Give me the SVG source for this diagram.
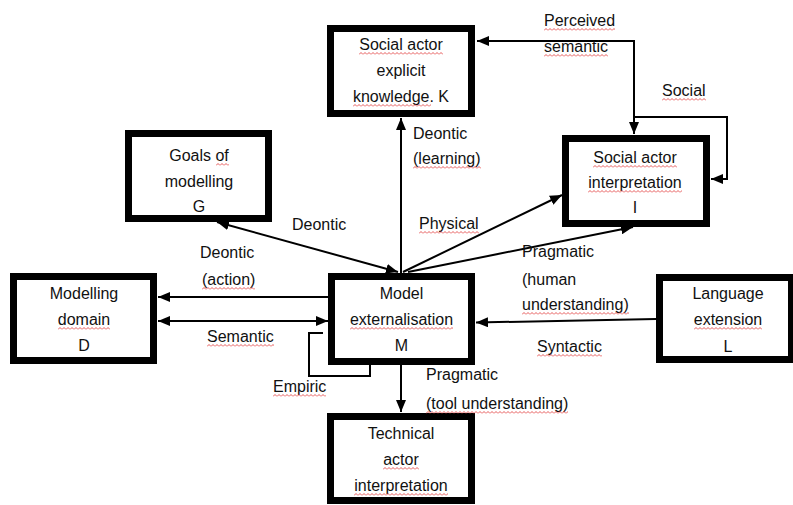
<svg xmlns="http://www.w3.org/2000/svg" width="793" height="505" viewBox="0 0 793 505">
<defs>
<marker id="ah" viewBox="0 0 12 10" refX="12" refY="5" markerWidth="12" markerHeight="10" markerUnits="userSpaceOnUse" orient="auto-start-reverse">
<path d="M0,0 L12,5 L0,10 z" fill="#000"/>
</marker>
<pattern id="sq" patternUnits="userSpaceOnUse" width="4" height="3">
<path d="M0,2.5 L2,0.5 L4,2.5" fill="none" stroke="#e03030" stroke-width="0.8"/>
</pattern>
</defs>
<style>
.box{fill:#fff;stroke:#000;stroke-width:7}
.t{font-family:"Liberation Sans",Arial,sans-serif;font-size:16px;fill:#111}
.c{text-anchor:middle}
.ln{fill:none;stroke:#000;stroke-width:2}
.sq{fill:url(#sq)}
</style>
<rect width="793" height="505" fill="#fff"/>
<g id="connectors">
<polyline class="ln" points="477,41 634,41 634,134" marker-start="url(#ah)" marker-end="url(#ah)"/>
<polyline class="ln" points="634,117 727,117 727,179 711,179" marker-end="url(#ah)"/>
<line class="ln" x1="401" y1="273" x2="401" y2="118" marker-end="url(#ah)"/>
<line class="ln" x1="398" y1="272" x2="217" y2="222" marker-start="url(#ah)" marker-end="url(#ah)"/>
<line class="ln" x1="403" y1="272" x2="562" y2="195" marker-end="url(#ah)"/>
<line class="ln" x1="408" y1="272" x2="633" y2="227" marker-end="url(#ah)"/>
<line class="ln" x1="328" y1="297" x2="158" y2="297" marker-end="url(#ah)"/>
<line class="ln" x1="158" y1="321" x2="328" y2="321" marker-start="url(#ah)" marker-end="url(#ah)"/>
<polyline class="ln" points="370,365 370,376 309,376 309,333 323,333"/>
<line class="ln" x1="656" y1="319" x2="476" y2="322.5" marker-end="url(#ah)"/>
<line class="ln" x1="401" y1="365" x2="401" y2="412" marker-end="url(#ah)"/>
</g>
<g id="node-K">
<rect class="box" x="330.5" y="28.5" width="141" height="85"/>
<text class="t c" x="401" y="50">Social actor</text>
<text class="t c" x="401" y="76">explicit</text>
<text class="t c" x="401" y="102">knowledge. K</text>
</g>
<g id="node-G">
<rect class="box" x="128.5" y="133.5" width="140" height="85"/>
<text class="t c" x="199" y="161">Goals of</text>
<text class="t c" x="199" y="187">modelling</text>
<text class="t c" x="199" y="212">G</text>
</g>
<g id="node-I">
<rect class="box" x="565.5" y="138.5" width="141" height="85"/>
<text class="t c" x="635" y="163">Social actor</text>
<text class="t c" x="635" y="188">interpretation</text>
<text class="t c" x="635" y="213">I</text>
</g>
<g id="node-D">
<rect class="box" x="13.5" y="276.5" width="140" height="84"/>
<text class="t c" x="84" y="299">Modelling</text>
<text class="t c" x="84" y="325">domain</text>
<text class="t c" x="84" y="351">D</text>
</g>
<g id="node-M">
<rect class="box" x="331.5" y="276.5" width="140" height="85"/>
<text class="t c" x="401.5" y="299">Model</text>
<text class="t c" x="401.5" y="325">externalisation</text>
<text class="t c" x="401.5" y="351">M</text>
</g>
<g id="node-L">
<rect class="box" x="659.5" y="277.5" width="132" height="82"/>
<text class="t c" x="728" y="299">Language</text>
<text class="t c" x="728" y="325">extension</text>
<text class="t c" x="728" y="352">L</text>
</g>
<g id="node-T">
<rect class="box" x="330.5" y="416.5" width="141" height="84"/>
<text class="t c" x="401" y="439">Technical</text>
<text class="t c" x="401" y="465">actor</text>
<text class="t c" x="401" y="491">interpretation</text>
</g>
<g id="labels">
<text class="t" x="544" y="26">Perceived</text>
<text class="t" x="544" y="52">semantic</text>
<text class="t" x="662" y="96">Social</text>
<text class="t" x="413" y="139">Deontic</text>
<text class="t" x="413" y="164">(learning)</text>
<text class="t" x="292" y="230">Deontic</text>
<text class="t" x="200" y="258">Deontic</text>
<text class="t" x="202" y="285">(action)</text>
<text class="t" x="207" y="342">Semantic</text>
<text class="t" x="273" y="392">Empiric</text>
<text class="t" x="419" y="229">Physical</text>
<text class="t" x="522" y="257">Pragmatic</text>
<text class="t" x="522" y="285">(human</text>
<text class="t" x="522" y="310">understanding)</text>
<text class="t" x="537" y="352">Syntactic</text>
<text class="t" x="426" y="380">Pragmatic</text>
<text class="t" x="426" y="409">(tool understanding)</text>
</g>
<g id="spellmarks">
<rect class="sq" transform="translate(359,52)" width="84" height="3"/>
<rect class="sq" transform="translate(353,104)" width="78" height="3"/>
<rect class="sq" transform="translate(544,28)" width="71" height="3"/>
<rect class="sq" transform="translate(544,54)" width="64" height="3"/>
<rect class="sq" transform="translate(662,98)" width="44" height="3"/>
<rect class="sq" transform="translate(593,165)" width="84" height="3"/>
<rect class="sq" transform="translate(588,190)" width="94" height="3"/>
<rect class="sq" transform="translate(216,163)" width="13" height="3"/>
<rect class="sq" transform="translate(413,166)" width="68" height="3"/>
<rect class="sq" transform="translate(202,287)" width="53" height="3"/>
<rect class="sq" transform="translate(58,327)" width="52" height="3"/>
<rect class="sq" transform="translate(207,344)" width="67" height="3"/>
<rect class="sq" transform="translate(273,394)" width="53" height="3"/>
<rect class="sq" transform="translate(350,327)" width="103" height="3"/>
<rect class="sq" transform="translate(419,231)" width="60" height="3"/>
<rect class="sq" transform="translate(522,312)" width="107" height="3"/>
<rect class="sq" transform="translate(537,354)" width="65" height="3"/>
<rect class="sq" transform="translate(694,327)" width="68" height="3"/>
<rect class="sq" transform="translate(426,411)" width="142" height="3"/>
<rect class="sq" transform="translate(383,467)" width="36" height="3"/>
<rect class="sq" transform="translate(354,493)" width="94" height="3"/>
</g>
</svg>
